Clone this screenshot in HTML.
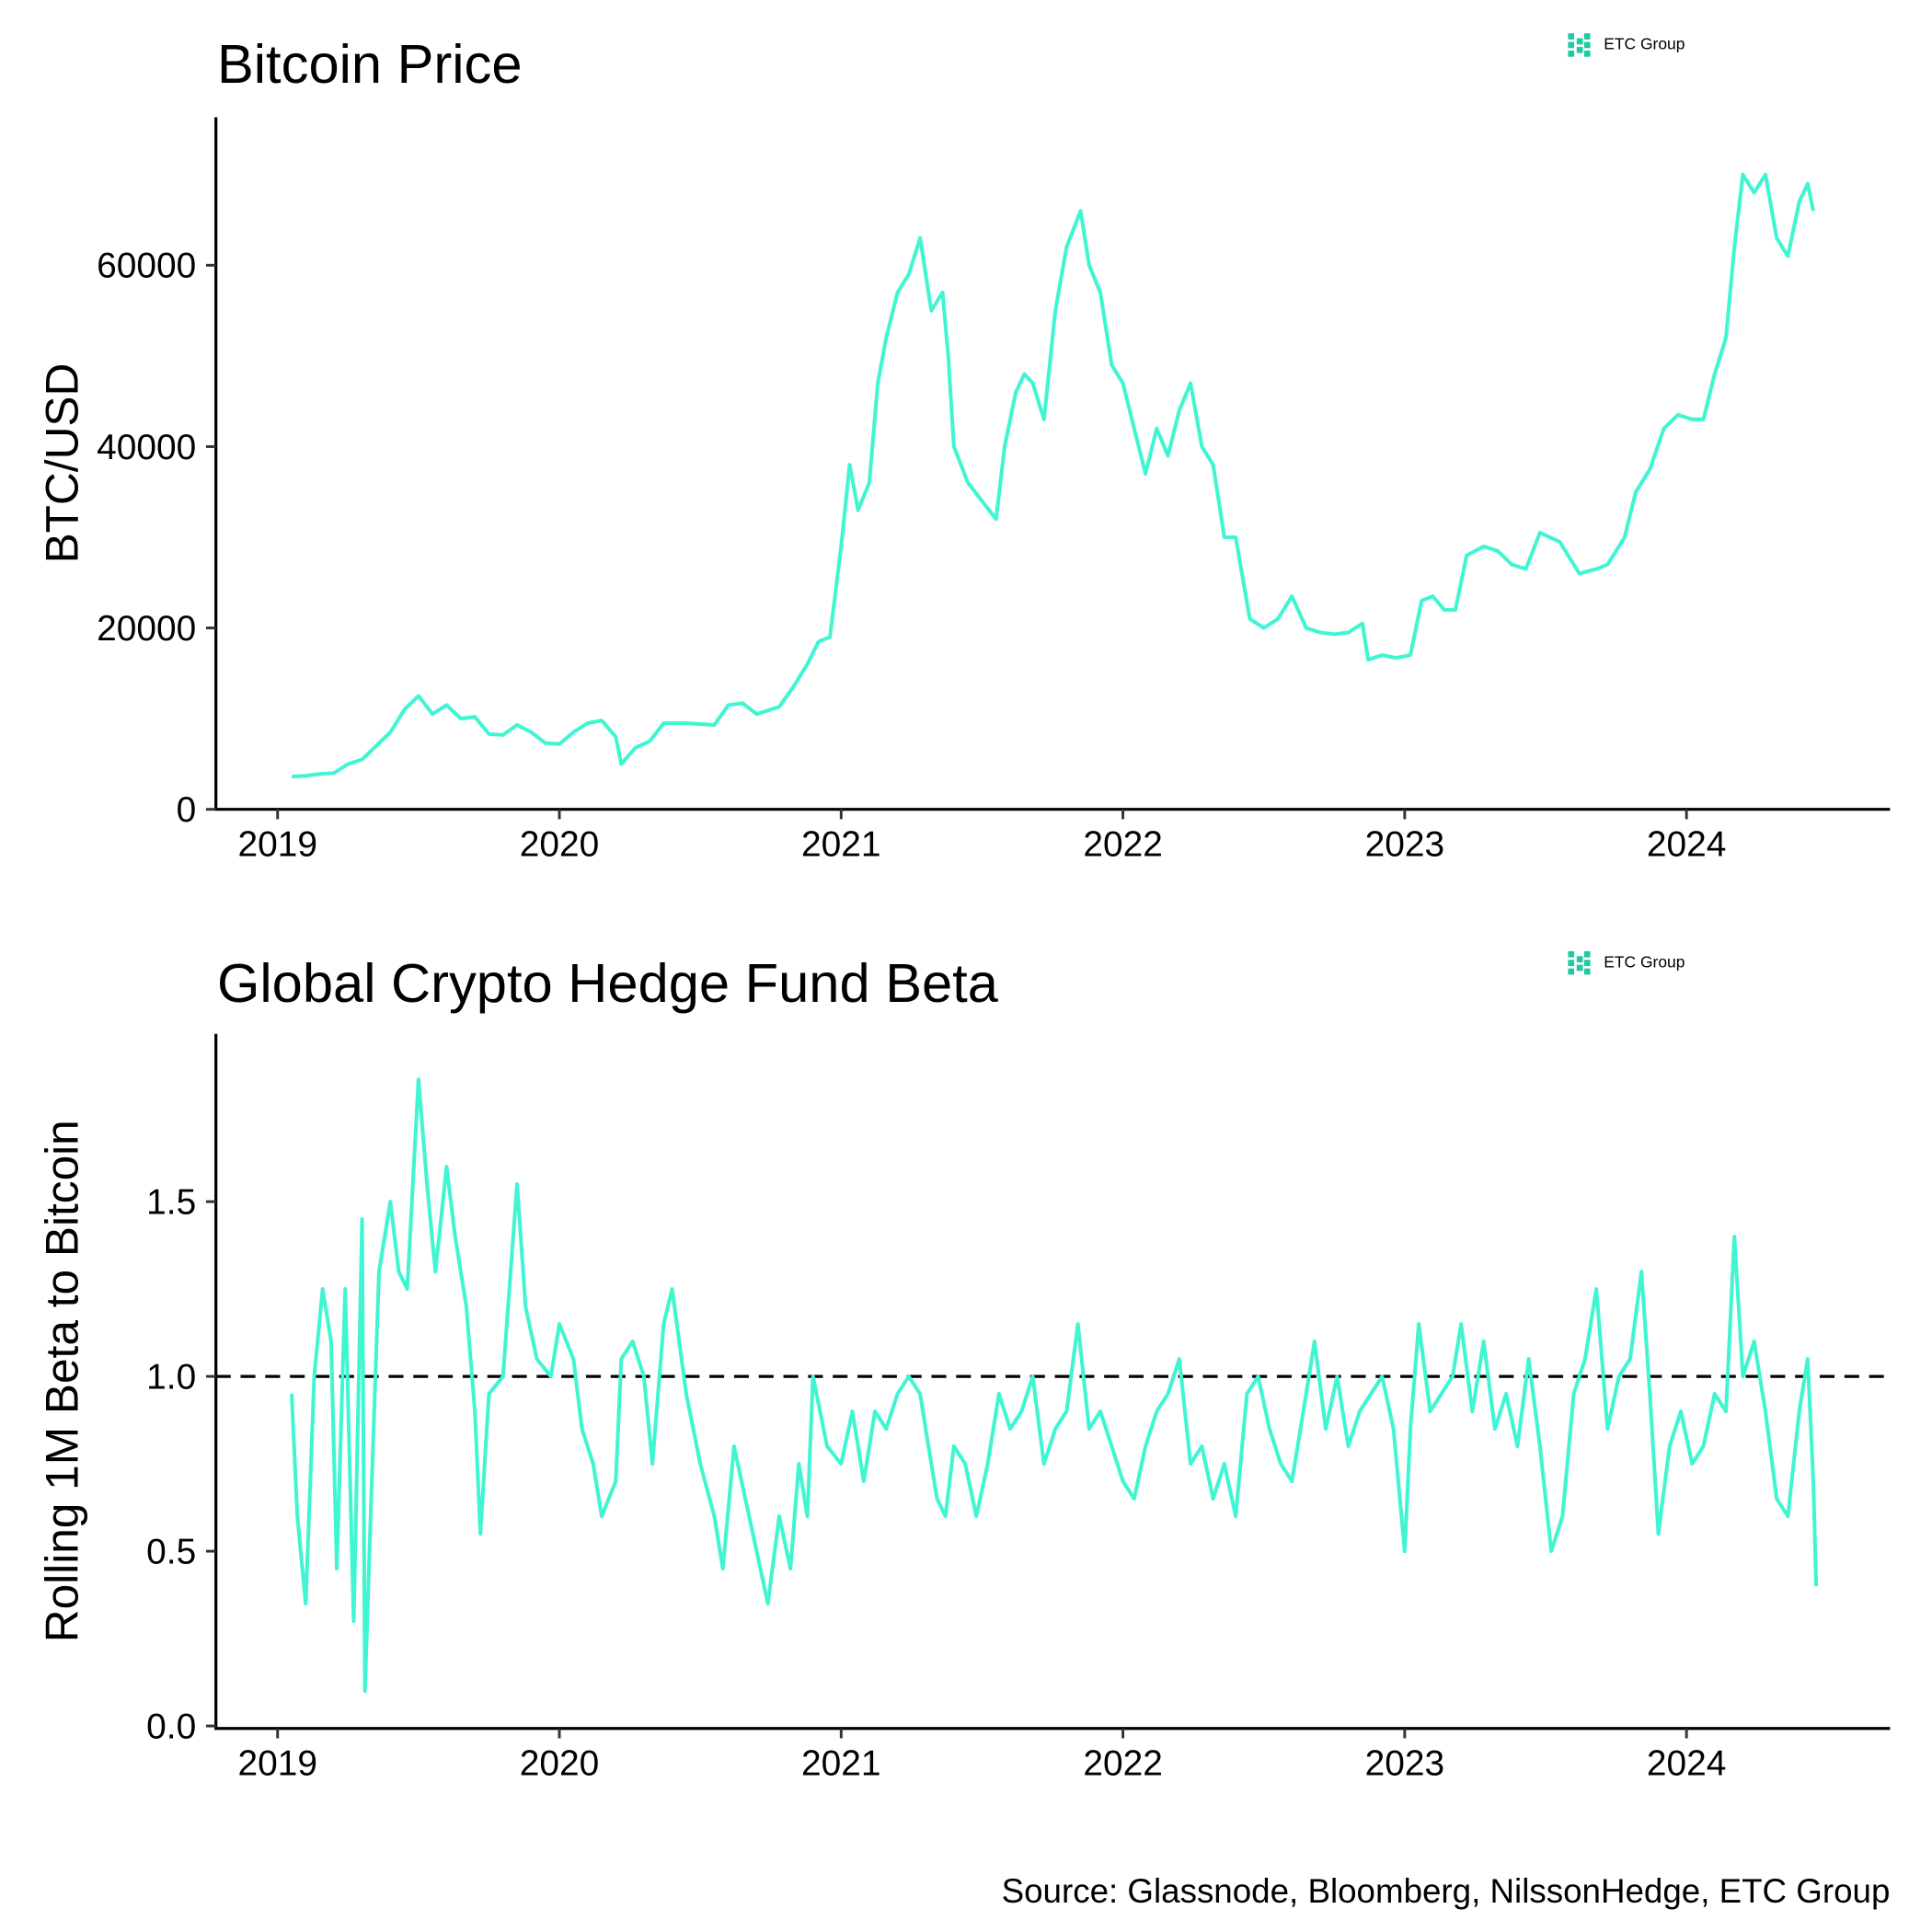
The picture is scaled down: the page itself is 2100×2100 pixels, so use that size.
<!DOCTYPE html>
<html><head><meta charset="utf-8"><style>
html,body{margin:0;padding:0;background:#fff;}
svg{display:block;}
text{font-family:"Liberation Sans",Arial,sans-serif;fill:#000;}
</style></head><body>
<svg id="chart" width="2100" height="2100" viewBox="0 0 1566 1566" xmlns="http://www.w3.org/2000/svg">
<rect width="1566" height="1566" fill="#fff"/>
<g id="top"></g>
<g id="bot"></g>
<text x="1532" y="1542" text-anchor="end" font-size="27.4">Source: Glassnode, Bloomberg, NilssonHedge, ETC Group</text>
</svg>
<script>
const xTickYears=[2019,2020,2021,2022,2023,2024];
const btcTicks=[0,20000,40000,60000];
const btcTickLabels=["0","20000","40000","60000"];
const betaTicks=[0,0.5,1,1.5];
const betaTickLabels=["0.0","0.5","1.0","1.5"];
const btcDates=[2019.05,2019.1,2019.15,2019.2,2019.25,2019.3,2019.35,2019.4,2019.45,2019.5,2019.55,2019.6,2019.65,2019.7,2019.75,2019.8,2019.85,2019.9,2019.95,2020.0,2020.05,2020.1,2020.15,2020.2,2020.22,2020.27,2020.32,2020.37,2020.45,2020.55,2020.6,2020.65,2020.7,2020.78,2020.83,2020.88,2020.92,2020.96,2021.0,2021.03,2021.06,2021.1,2021.13,2021.16,2021.2,2021.24,2021.28,2021.32,2021.36,2021.38,2021.4,2021.45,2021.5,2021.55,2021.58,2021.62,2021.65,2021.68,2021.72,2021.76,2021.8,2021.85,2021.88,2021.92,2021.96,2022.0,2022.04,2022.08,2022.12,2022.16,2022.2,2022.24,2022.28,2022.32,2022.36,2022.4,2022.45,2022.5,2022.55,2022.6,2022.65,2022.7,2022.75,2022.8,2022.85,2022.87,2022.92,2022.97,2023.02,2023.06,2023.1,2023.14,2023.18,2023.22,2023.28,2023.33,2023.38,2023.43,2023.48,2023.55,2023.62,2023.68,2023.72,2023.78,2023.82,2023.87,2023.92,2023.97,2024.02,2024.06,2024.1,2024.14,2024.17,2024.2,2024.24,2024.28,2024.32,2024.36,2024.4,2024.43,2024.45];
const btcValues=[3600,3700,3900,4000,5000,5500,7000,8500,11000,12500,10500,11500,10000,10200,8300,8200,9300,8500,7300,7200,8500,9500,9800,8000,5000,6800,7500,9500,9500,9300,11500,11700,10500,11300,13500,16000,18500,19000,29000,38000,33000,36000,47000,52000,57000,59000,63000,55000,57000,50000,40000,36000,34000,32000,40000,46000,48000,47000,43000,55000,62000,66000,60000,57000,49000,47000,42000,37000,42000,39000,44000,47000,40000,38000,30000,30000,21000,20000,21000,23500,20000,19500,19300,19500,20500,16500,17000,16700,17000,23000,23500,22000,22000,28000,29000,28500,27000,26500,30500,29500,26000,26500,27000,30000,35000,37500,42000,43500,43000,43000,48000,52000,62000,70000,68000,70000,63000,61000,67000,69000,66000];
const betaDates=[2019.05,2019.07,2019.1,2019.13,2019.16,2019.19,2019.21,2019.24,2019.27,2019.3,2019.31,2019.33,2019.36,2019.4,2019.43,2019.46,2019.5,2019.53,2019.56,2019.6,2019.63,2019.67,2019.7,2019.72,2019.75,2019.8,2019.85,2019.88,2019.92,2019.97,2020.0,2020.05,2020.08,2020.12,2020.15,2020.2,2020.22,2020.26,2020.3,2020.33,2020.37,2020.4,2020.45,2020.5,2020.55,2020.58,2020.62,2020.66,2020.7,2020.74,2020.78,2020.82,2020.85,2020.88,2020.9,2020.95,2021.0,2021.04,2021.08,2021.12,2021.16,2021.2,2021.24,2021.28,2021.3,2021.34,2021.37,2021.4,2021.44,2021.48,2021.52,2021.56,2021.6,2021.64,2021.68,2021.72,2021.76,2021.8,2021.84,2021.88,2021.92,2021.96,2022.0,2022.04,2022.08,2022.12,2022.16,2022.2,2022.24,2022.28,2022.32,2022.36,2022.4,2022.44,2022.48,2022.52,2022.56,2022.6,2022.64,2022.68,2022.72,2022.76,2022.8,2022.84,2022.88,2022.92,2022.96,2023.0,2023.02,2023.05,2023.09,2023.13,2023.17,2023.2,2023.24,2023.28,2023.32,2023.36,2023.4,2023.44,2023.48,2023.52,2023.56,2023.6,2023.64,2023.68,2023.72,2023.76,2023.8,2023.84,2023.87,2023.9,2023.94,2023.98,2024.02,2024.06,2024.1,2024.14,2024.17,2024.2,2024.24,2024.28,2024.32,2024.36,2024.4,2024.43,2024.45,2024.46];
const betaValues=[0.95,0.6,0.35,1.0,1.25,1.1,0.45,1.25,0.3,1.45,0.1,0.6,1.3,1.5,1.3,1.25,1.85,1.55,1.3,1.6,1.4,1.2,0.9,0.55,0.95,1.0,1.55,1.2,1.05,1.0,1.15,1.05,0.85,0.75,0.6,0.7,1.05,1.1,1.0,0.75,1.15,1.25,0.95,0.75,0.6,0.45,0.8,0.65,0.5,0.35,0.6,0.45,0.75,0.6,1.0,0.8,0.75,0.9,0.7,0.9,0.85,0.95,1.0,0.95,0.85,0.65,0.6,0.8,0.75,0.6,0.75,0.95,0.85,0.9,1.0,0.75,0.85,0.9,1.15,0.85,0.9,0.8,0.7,0.65,0.8,0.9,0.95,1.05,0.75,0.8,0.65,0.75,0.6,0.95,1.0,0.85,0.75,0.7,0.9,1.1,0.85,1.0,0.8,0.9,0.95,1.0,0.85,0.5,0.85,1.15,0.9,0.95,1.0,1.15,0.9,1.1,0.85,0.95,0.8,1.05,0.8,0.5,0.6,0.95,1.05,1.25,0.85,1.0,1.05,1.3,0.95,0.55,0.8,0.9,0.75,0.8,0.95,0.9,1.4,1.0,1.1,0.9,0.65,0.6,0.9,1.05,0.7,0.4];

const NS="http://www.w3.org/2000/svg";
function mk(parent,tag,attrs,txt){const e=document.createElementNS(NS,tag);for(const k in attrs)e.setAttribute(k,attrs[k]);if(txt!==undefined)e.textContent=txt;parent.appendChild(e);return e;}
const xScale=y=>225+(y-2019)*228.4;

function panel(g,o){
  const yScale=v=>o.y0+(v-o.ymin)*(o.y1-o.y0)/(o.ymax-o.ymin);
  const t=mk(g,'text',{x:176,y:o.titleY,'font-size':44.5},o.title);
  
  
  const lg=mk(g,'g',{transform:`translate(1271,${o.logoY})`});
  
  
  [[0,0],[0,7],[0,14],[7,4],[7,11],[13,0],[13,7],[13,14]].forEach(p=>mk(lg,'rect',{x:p[0],y:p[1],width:5,height:5,fill:'#1fc9a3'}));
  mk(lg,'text',{x:29,y:13,'font-size':13},'ETC Group');
  const ax=mk(g,'path',{d:`M175,${o.axTop} V${o.axBot} H1532`,stroke:'#000','stroke-width':2.4,fill:'none'});
  
  
  o.ticks.forEach((v,i)=>{
    const y=yScale(v);
    mk(g,'line',{x1:167,x2:175,y1:y,y2:y,stroke:'#333','stroke-width':2.2});
    const tl=mk(g,'text',{x:159,y:y+10,'text-anchor':'end','font-size':29},o.labels[i]);
    
    
  });
  xTickYears.forEach(yr=>{
    const x=xScale(yr);
    mk(g,'line',{x1:x,x2:x,y1:o.axBot,y2:o.axBot+8,stroke:'#333','stroke-width':2.2});
    const tl=mk(g,'text',{x:x,y:o.axBot+38,'text-anchor':'middle','font-size':29},String(yr));
    
    
  });
  const cy=(o.axTop+o.axBot)/2;
  const yt=mk(g,'text',{x:0,y:0,'text-anchor':'middle','font-size':37,transform:`translate(63,${cy}) rotate(-90)`},o.ylab);
  
  
  if(o.ref!==undefined){
    const r=mk(g,'line',{x1:175,x2:1532,y1:yScale(o.ref),y2:yScale(o.ref),stroke:'#000','stroke-width':2.4,'stroke-dasharray':'12,8'});
    
    
  }
  const d=o.dates.map((x,i)=>(i?'L':'M')+xScale(x).toFixed(1)+','+yScale(o.vals[i]).toFixed(1)).join(' ');
  const p=mk(g,'path',{d:d,stroke:'#3ff5d2','stroke-width':3,fill:'none','stroke-linejoin':'round'});
  
  
}
panel(document.getElementById('top'),{title:'Bitcoin Price',titleY:67,logoY:27,axTop:95,axBot:656,y0:656,y1:215,ymin:0,ymax:60000,ticks:btcTicks,labels:btcTickLabels,ylab:'BTC/USD',dates:btcDates,vals:btcValues});
panel(document.getElementById('bot'),{title:'Global Crypto Hedge Fund Beta',titleY:812,logoY:771,axTop:838,axBot:1401,y0:1399,y1:974,ymin:0,ymax:1.5,ticks:betaTicks,labels:betaTickLabels,ylab:'Rolling 1M Beta to Bitcoin',dates:betaDates,vals:betaValues,ref:1});
</script>
</body></html>
